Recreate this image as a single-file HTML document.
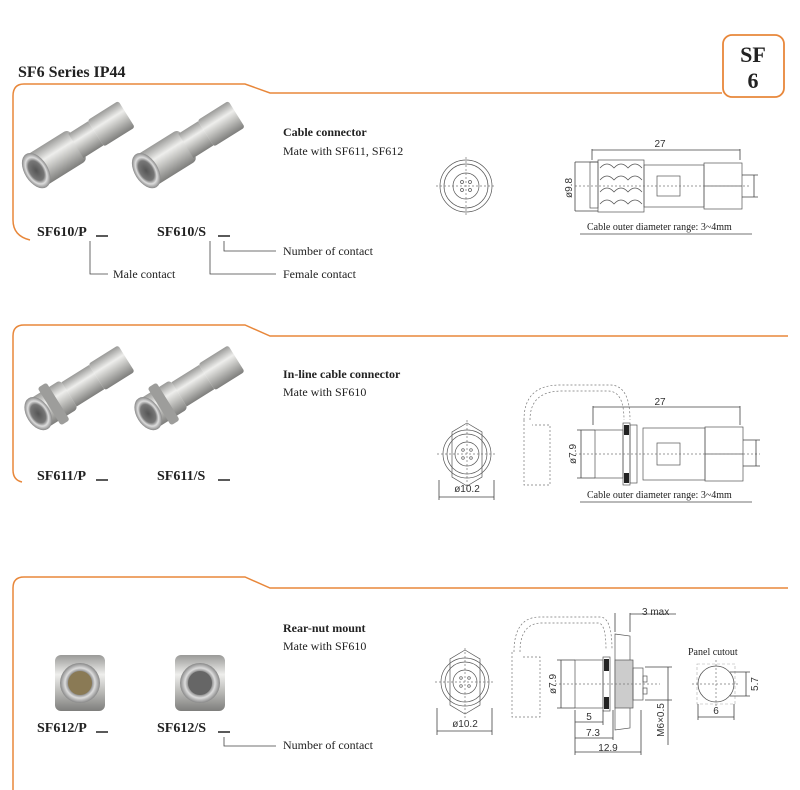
<!DOCTYPE html>
<html><head><meta charset="utf-8"><style>
html,body{margin:0;padding:0;background:#fff}
svg{display:block}
.t{font-family:"Liberation Serif",serif;fill:#222}
.b{font-weight:bold}
.d{font-family:"Liberation Sans",sans-serif;fill:#333;font-size:10px}
.l{stroke:#444;stroke-width:0.8;fill:none}
.o{stroke:#e8873a;stroke-width:1.5;fill:none}
.k{stroke:#555;stroke-width:0.7;fill:none}
.dash{stroke:#777;stroke-width:0.7;fill:none;stroke-dasharray:2,2}
</style></head><body>
<svg width="800" height="790" viewBox="0 0 800 790" xmlns="http://www.w3.org/2000/svg">
<defs>
<linearGradient id="m" x1="0" y1="0" x2="0" y2="1">
<stop offset="0" stop-color="#9a9a98"/><stop offset="0.35" stop-color="#eeeeec"/><stop offset="0.6" stop-color="#c4c4c1"/><stop offset="1" stop-color="#7e7e7c"/></linearGradient>
<radialGradient id="f" cx="0.5" cy="0.5" r="0.5"><stop offset="0" stop-color="#555"/><stop offset="0.55" stop-color="#777"/><stop offset="0.75" stop-color="#ddd"/><stop offset="1" stop-color="#888"/></radialGradient>
<g id="cab">
<rect x="0" y="-14" width="40" height="28" rx="4" fill="url(#m)"/>
<rect x="38" y="-11" width="18" height="22" fill="url(#m)"/>
<rect x="56" y="-12" width="28" height="24" rx="2" fill="url(#m)"/>
<ellipse cx="2" cy="0" rx="9" ry="15" fill="url(#f)"/>
</g>
<g id="inl">
<rect x="0" y="-13" width="30" height="26" rx="3" fill="url(#m)"/>
<rect x="12" y="-17" width="8" height="34" rx="2" fill="#9d9d9b"/>
<rect x="30" y="-11" width="25" height="22" fill="url(#m)"/>
<rect x="55" y="-12" width="27" height="24" rx="2" fill="url(#m)"/>
<ellipse cx="2" cy="0" rx="9" ry="14" fill="url(#f)"/>
</g>
</defs>

<text class="t b" x="18" y="77" font-size="16">SF6 Series IP44</text>
<rect x="723" y="35" width="61" height="62" rx="9" fill="#fff" stroke="#e8873a" stroke-width="1.8"/>
<text class="t b" x="753" y="62" font-size="22" text-anchor="middle">SF</text>
<text class="t b" x="753" y="88" font-size="22" text-anchor="middle">6</text>

<path class="o" d="M30,240 Q13,236 13,220 L13,96 Q13,84 24,84 L245,84 L270,93 L722,93"/>
<path class="o" d="M22,482 Q13,480 13,470 L13,336 Q13,325 24,325 L245,325 L270,336 L788,336"/>
<path class="o" d="M13,790 L13,588 Q13,577 24,577 L245,577 L270,588 L788,588"/>

<g transform="translate(34,172) scale(1.3) rotate(-32)"><use href="#cab"/></g>
<g transform="translate(144,172) scale(1.3) rotate(-32)"><use href="#cab"/></g>
<text class="t b" x="283" y="136" font-size="12">Cable connector</text>
<text class="t" x="283" y="155" font-size="12">Mate with SF611, SF612</text>
<text class="t b" x="37" y="236" font-size="14">SF610/P</text>
<line x1="96" y1="236" x2="108" y2="236" stroke="#222" stroke-width="1.5"/>
<text class="t b" x="157" y="236" font-size="14">SF610/S</text>
<line x1="218" y1="236" x2="230" y2="236" stroke="#222" stroke-width="1.5"/>
<path class="l" d="M90,241 V274 H108 M210,241 V274 H276 M224,241 V251 H276"/>
<text class="t" x="283" y="255" font-size="12">Number of contact</text>
<text class="t" x="283" y="278" font-size="12">Female contact</text>
<text class="t" x="113" y="278" font-size="12">Male contact</text>

<g>
<circle cx="466" cy="186" r="26" class="k"/><circle cx="466" cy="186" r="22" class="k"/><circle cx="466" cy="186" r="13" class="k"/>
<circle cx="462" cy="182" r="1.5" class="k"/><circle cx="470" cy="182" r="1.5" class="k"/><circle cx="462" cy="190" r="1.5" class="k"/><circle cx="470" cy="190" r="1.5" class="k"/>
<line x1="466" y1="157" x2="466" y2="215" class="dash"/><line x1="436" y1="186" x2="496" y2="186" class="dash"/>
<rect x="590" y="162" width="8" height="46" class="k"/>
<rect x="598" y="160" width="46" height="52" class="k"/>
<path class="k" d="M600,168 q7,-8 14,0 q7,-8 14,0 q7,-8 14,0 M600,180 q7,-8 14,0 q7,-8 14,0 q7,-8 14,0 M600,192 q7,-8 14,0 q7,-8 14,0 q7,-8 14,0 M600,204 q7,-8 14,0 q7,-8 14,0 q7,-8 14,0"/>
<rect x="644" y="165" width="60" height="42" class="k"/>
<rect x="657" y="176" width="23" height="20" class="k"/>
<rect x="704" y="163" width="38" height="46" class="k"/>
<line x1="704" y1="186" x2="742" y2="186" class="k"/>
<line x1="575" y1="186" x2="750" y2="186" class="dash"/>
<path class="l" d="M592,149 V160 M740,149 V160 M592,150 H740"/>
<text class="d" x="660" y="147" text-anchor="middle">27</text>
<path class="l" d="M575,162 H598 M575,211 H598 M575,162 V211"/>
<text class="d" transform="translate(572,188) rotate(-90)" text-anchor="middle">ø9.8</text>
<path class="l" d="M742,175 H758 M742,197 H758 M754,175 V197"/>
<line x1="580" y1="234" x2="752" y2="234" class="l"/>
<text class="t" x="587" y="230" font-size="10">Cable outer diameter range: 3~4mm</text>
</g>

<g transform="translate(36,415) scale(1.3) rotate(-32)"><use href="#inl"/></g>
<g transform="translate(146,415) scale(1.3) rotate(-32)"><use href="#inl"/></g>
<text class="t b" x="283" y="378" font-size="12">In-line cable connector</text>
<text class="t" x="283" y="396" font-size="12">Mate with SF610</text>
<text class="t b" x="37" y="480" font-size="14">SF611/P</text>
<line x1="96" y1="480" x2="108" y2="480" stroke="#222" stroke-width="1.5"/>
<text class="t b" x="157" y="480" font-size="14">SF611/S</text>
<line x1="218" y1="480" x2="230" y2="480" stroke="#222" stroke-width="1.5"/>

<g>
<path class="k" d="M467,423 L482,432 L482,477 L467,486 L452,477 L452,432 Z"/>
<circle cx="467" cy="454" r="24" class="k"/><circle cx="467" cy="454" r="20" class="k"/><circle cx="467" cy="454" r="12" class="k"/>
<circle cx="463" cy="450" r="1.3" class="k"/><circle cx="471" cy="450" r="1.3" class="k"/><circle cx="463" cy="458" r="1.3" class="k"/><circle cx="471" cy="458" r="1.3" class="k"/>
<line x1="437" y1="454" x2="497" y2="454" class="dash"/><line x1="467" y1="420" x2="467" y2="490" class="dash"/>
<path class="l" d="M439,480 V500 M494,480 V500 M439,497 H494"/>
<text class="d" x="467" y="492" text-anchor="middle">ø10.2</text>
<path class="dash" d="M524,420 Q524,385 560,385 L610,385 Q630,385 630,420 M530,420 Q530,391 562,391 L608,391 Q624,391 624,420"/>
<path class="dash" d="M524,420 V485 H550 V425 H532"/>
<rect x="595" y="430" width="28" height="48" class="k"/>
<rect x="623" y="423" width="7" height="62" class="k"/>
<rect x="624" y="425" width="5" height="10" fill="#222"/><rect x="624" y="473" width="5" height="10" fill="#222"/>
<rect x="630" y="425" width="7" height="58" class="k"/>
<rect x="643" y="428" width="62" height="52" class="k"/>
<rect x="657" y="443" width="23" height="22" class="k"/>
<rect x="705" y="427" width="38" height="54" class="k"/>
<line x1="705" y1="454" x2="743" y2="454" class="k"/>
<line x1="575" y1="454" x2="760" y2="454" class="dash"/>
<path class="l" d="M593,406 V425 M740,406 V425 M593,407 H740"/>
<text class="d" x="660" y="405" text-anchor="middle">27</text>
<path class="l" d="M577,430 H595 M577,478 H595 M581,430 V478"/>
<text class="d" transform="translate(576,454) rotate(-90)" text-anchor="middle">ø7.9</text>
<path class="l" d="M743,440 H760 M743,466 H760 M756,440 V466"/>
<line x1="580" y1="502" x2="752" y2="502" class="l"/>
<text class="t" x="587" y="498" font-size="10">Cable outer diameter range: 3~4mm</text>
</g>

<g transform="translate(85,683)">
<rect x="-30" y="-28" width="50" height="56" rx="6" fill="url(#m)"/>
<circle cx="-5" cy="0" r="20" fill="url(#f)"/>
<circle cx="-5" cy="0" r="12" fill="#8a7a55"/>
</g>
<g transform="translate(205,683)">
<rect x="-30" y="-28" width="50" height="56" rx="6" fill="url(#m)"/>
<circle cx="-5" cy="0" r="20" fill="url(#f)"/>
<circle cx="-5" cy="0" r="12" fill="#666"/>
</g>
<text class="t b" x="283" y="632" font-size="12">Rear-nut mount</text>
<text class="t" x="283" y="650" font-size="12">Mate with SF610</text>
<text class="t b" x="37" y="732" font-size="14">SF612/P</text>
<line x1="96" y1="732" x2="108" y2="732" stroke="#222" stroke-width="1.5"/>
<text class="t b" x="157" y="732" font-size="14">SF612/S</text>
<line x1="218" y1="732" x2="230" y2="732" stroke="#222" stroke-width="1.5"/>
<path class="l" d="M224,737 V746 H276"/>
<text class="t" x="283" y="749" font-size="12">Number of contact</text>

<g>
<path class="k" d="M465,650 L480,659 L480,705 L465,714 L450,705 L450,659 Z"/>
<circle cx="465" cy="682" r="24" class="k"/><circle cx="465" cy="682" r="20" class="k"/><circle cx="465" cy="682" r="12" class="k"/>
<circle cx="461" cy="678" r="1.3" class="k"/><circle cx="469" cy="678" r="1.3" class="k"/><circle cx="461" cy="686" r="1.3" class="k"/><circle cx="469" cy="686" r="1.3" class="k"/>
<line x1="435" y1="682" x2="495" y2="682" class="dash"/><line x1="465" y1="648" x2="465" y2="718" class="dash"/>
<path class="l" d="M437,708 V735 M492,708 V735 M437,731 H492"/>
<text class="d" x="465" y="727" text-anchor="middle">ø10.2</text>
<path class="dash" d="M514,652 Q514,617 540,617 L600,617 Q612,617 612,650 M520,652 Q520,623 542,623 L598,623 Q606,623 606,650"/>
<path class="dash" d="M512,652 V717 H540 V657 H522"/>
<rect x="575" y="660" width="28" height="48" class="k"/>
<rect x="603" y="657" width="7" height="54" class="k"/>
<rect x="604" y="659" width="5" height="12" fill="#222"/><rect x="604" y="697" width="5" height="12" fill="#222"/>
<path class="k" d="M615,634 L630,636 L630,728 L615,730 Z"/>
<rect x="615" y="660" width="18" height="48" fill="#ccc" stroke="#555" stroke-width="0.7"/>
<rect x="633" y="668" width="10" height="32" class="k"/>
<rect x="643" y="676" width="4" height="6" class="k"/><rect x="643" y="688" width="4" height="6" class="k"/>
<line x1="555" y1="684" x2="660" y2="684" class="dash"/>
<path class="l" d="M615,613 V632 M630,613 V632 M630,614 H676"/>
<text class="d" x="642" y="615">3 max</text>
<path class="l" d="M557,660 H575 M557,708 H575 M561,660 V708"/>
<text class="d" transform="translate(556,684) rotate(-90)" text-anchor="middle">ø7.9</text>
<path class="l" d="M645,667 H672 M645,700 H672 M668,667 V745"/>
<text class="d" transform="translate(664,720) rotate(-90)" text-anchor="middle">M6×0.5</text>
<path class="l" d="M575,710 V755 M603,710 V725 M613,710 V740 M641,710 V755 M575,722 H603 M575,738 H613 M575,752 H641"/>
<text class="d" x="589" y="720" text-anchor="middle">5</text>
<text class="d" x="593" y="736" text-anchor="middle">7.3</text>
<text class="d" x="608" y="751" text-anchor="middle">12.9</text>
<text class="t" x="688" y="655" font-size="10">Panel cutout</text>
<rect x="697" y="664" width="38" height="40" fill="none" stroke="#aaa" stroke-width="0.6" stroke-dasharray="3,2"/>
<circle cx="716" cy="684" r="18" fill="#fff" stroke="#555" stroke-width="0.8"/>
<line x1="692" y1="684" x2="740" y2="684" class="dash"/><line x1="716" y1="660" x2="716" y2="708" class="dash"/>
<path class="l" d="M730,672 H750 M730,696 H750 M746,672 V696 M698,704 V720 M734,704 V720 M698,717 H734"/>
<text class="d" transform="translate(758,684) rotate(-90)" text-anchor="middle">5.7</text>
<text class="d" x="716" y="714" text-anchor="middle">6</text>
</g>
</svg>
</body></html>
